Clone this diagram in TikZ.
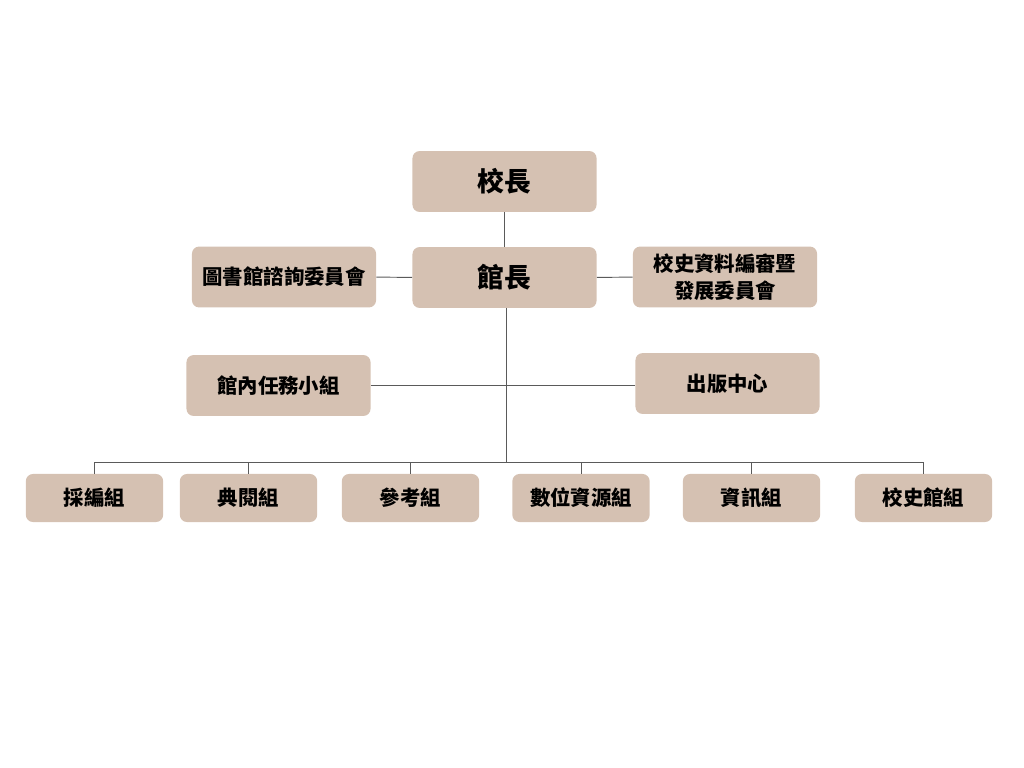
\documentclass[tikz,border=0pt]{standalone}
\usepackage{fontspec}
\newfontfamily\cjk{Noto Sans CJK TC}
\usetikzlibrary{positioning,calc}
\definecolor{boxtan}{HTML}{D5C1B2}
\definecolor{linegray}{HTML}{5A5A5A}
\tikzset{
  unit/.style={fill=boxtan, rounded corners=5pt, align=center, inner sep=2pt,
    minimum width=4.6cm, minimum height=1.52cm,
    font=\cjk\bfseries\fontsize{14.5}{19}\selectfont},
  head/.style={unit, font=\cjk\bfseries\fontsize{19}{23}\selectfont},
  group/.style={unit, minimum width=3.43cm, minimum height=1.2cm},
  link/.style={draw=linegray, line width=0.7pt}
}

\begin{document}
\begin{tikzpicture}[x=0.025cm, y=-0.025cm]
        \useasboundingbox (0,0) rectangle (1024,768);

        % ============================================================
        % Top: principal and library director
        % ============================================================
        \node[head] (principal) at (504.5,181.5) {校長};
        \node[head] (director) at (504.5,277.5) {館長};

        \node[unit] (advisory) at (284,277) {圖書館諮詢委員會};
        \node[unit] (history) at (725,277) {校史資料編審暨\\發展委員會};

        % ============================================================
        % Middle: task force and press
        % ============================================================
        \node[unit] (taskforce) at (278.5,385.5) {館內任務小組};
        \node[unit] (press) at (727.5,383.5) {出版中心};

        % ============================================================
        % Bottom: groups
        % ============================================================
        \node[group] (acq) at (94.5,498) {採編組};
        \node[group] (circ) at (248.5,498) {典閱組};
        \node[group] (ref) at (410.5,498) {參考組};
        \node[group] (digi) at (581,498) {數位資源組};
        \node[group] (info) at (751.5,498) {資訊組};
        \node[group] (arch) at (923.5,498) {校史館組};

        % connectors
        \coordinate (hub) at (506,462);
        \draw[link] (principal) -- (director);
        \draw[link] (advisory) -- (director);
        \draw[link] (director) -- (history);
        \draw[link] (taskforce.east) -- (taskforce.east -| press.west);
        \draw[link] (director.south -| hub) -- (hub);
        \foreach \g in {acq,circ,ref,digi,info,arch}
          \draw[link] (hub) -| (\g.north);

\end{tikzpicture}
\end{document}
